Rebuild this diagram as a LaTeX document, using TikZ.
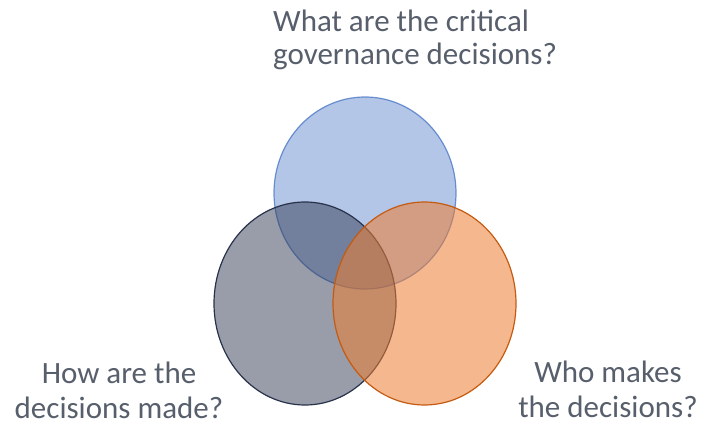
\documentclass[tikz,border=0pt]{standalone}
\usepackage{fontspec}
\setmainfont{Carlito}
\definecolor{txt}{RGB}{88,95,108}
\definecolor{blueF}{RGB}{68,114,196}
\definecolor{grayF}{RGB}{50,60,85}
\definecolor{grayE}{RGB}{40,50,75}
\definecolor{orangeF}{RGB}{237,125,49}
\definecolor{orangeE}{RGB}{197,90,17}
\begin{document}
\begin{tikzpicture}[x=1pt,y=-1pt,
  lbl/.style={text=txt,inner sep=0pt,font=\fontsize{31}{33}\selectfont},
  lblb/.style={text=txt,inner sep=0pt,font=\fontsize{31}{34.5}\selectfont},
  circ/.style={line width=1.2pt}]
\useasboundingbox (0,0) rectangle (705,425);
\fill[white] (0,0) rectangle (705,425);
\draw[circ,fill=blueF,fill opacity=0.4,draw=blueF,draw opacity=0.75] (365,193) ellipse [x radius=91,y radius=96];
\draw[circ,fill=grayF,fill opacity=0.5,draw=grayE] (305,303.5) ellipse [x radius=91,y radius=101.5];
\draw[circ,fill=orangeF,fill opacity=0.55,draw=orangeE] (424.5,303.5) ellipse [x radius=91.5,y radius=101.5];
\node[lbl,anchor=base west,align=left] (q1) at (273,65) {What are the critical\\governance decisions?};
\node[lblb,anchor=base,align=center] (q2) at (119,418) {How are the\\decisions made?};
\node[lblb,anchor=base,align=center] (q3) at (608,417) {Who makes\\the decisions?};
\end{tikzpicture}
\end{document}
